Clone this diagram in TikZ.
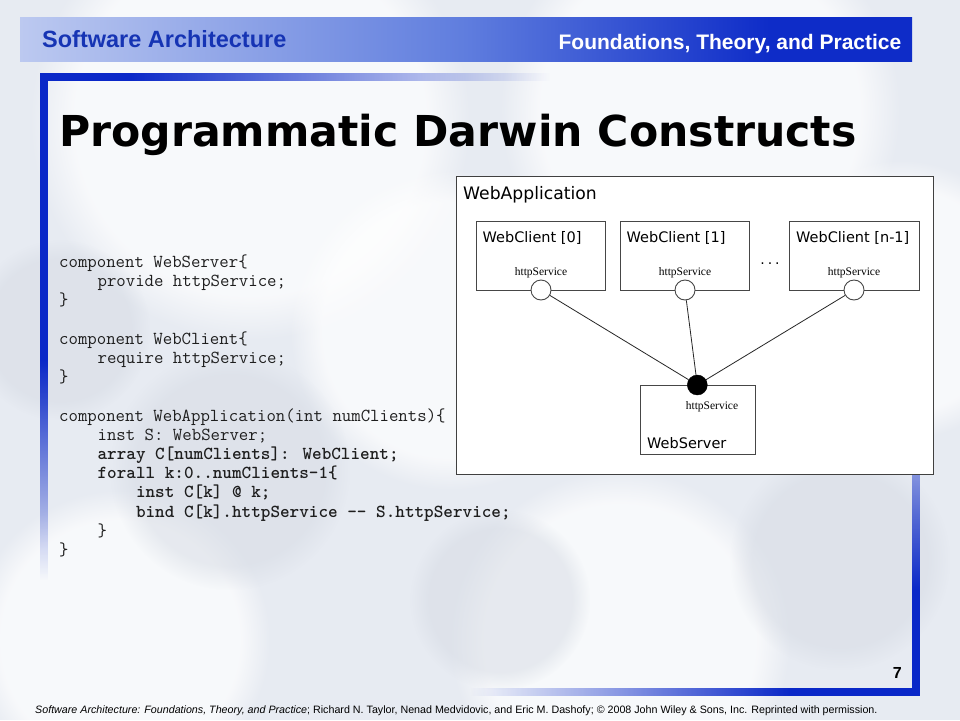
\documentclass[tikz,border=0pt]{standalone}
\usepackage{fontspec}
\setmainfont{Liberation Sans}
\newfontfamily\titlefont{DejaVu Sans}
\newfontfamily\diafont{DejaVu Sans}
\newfontfamily\portfont{Liberation Serif}
\usetikzlibrary{fadings}
\definecolor{bgbase}{RGB}{231,235,242}
\definecolor{cloudgray}{RGB}{214,219,228}
\definecolor{frameblue}{RGB}{10,40,200}
\definecolor{hdrA}{RGB}{228,234,247}
\definecolor{hdrB}{RGB}{188,201,240}
\definecolor{hdrC}{RGB}{95,125,222}
\definecolor{hdrD}{RGB}{14,44,200}
\definecolor{sablue}{RGB}{22,52,180}
\definecolor{codecol}{RGB}{30,30,30}
\definecolor{boxline}{RGB}{70,70,70}
\pgfdeclarehorizontalshading{hdrshade}{100bp}{color(0bp)=(hdrA); color(25bp)=(hdrB); color(50bp)=(hdrC); color(67bp)=(hdrD); color(100bp)=(hdrD)}
\tikzfading[name=fadedown, top color=transparent!0, bottom color=transparent!100]
\tikzfading[name=fadeup, top color=transparent!100, bottom color=transparent!0]
\tikzfading[name=faderight, left color=transparent!0, right color=transparent!100]
\tikzfading[name=fadeleft, left color=transparent!100, right color=transparent!0]
\tikzset{
  box/.style={draw=boxline, fill=white, line width=0.9pt, inner sep=0pt, rectangle},
  port/.style={circle, draw=boxline, fill=white, line width=0.9pt, minimum size=20pt, inner sep=0pt},
  bport/.style={circle, draw=black, fill=black, minimum size=20pt, inner sep=0pt},
  lbl/.style={anchor=base west, inner sep=0pt, font=\diafont\fontsize{14.5}{16}\selectfont},
  plbl/.style={anchor=base, inner sep=0pt, font=\portfont\fontsize{11.5}{13}\selectfont},
  conn/.style={draw=black!85, line width=0.8pt},
  code/.style={anchor=base west, inner sep=0pt, text=codecol, font=\ttfamily\fontsize{18.3}{22}\selectfont},
  codeb/.style={code, font=\ttfamily\bfseries\fontsize{18.3}{22}\selectfont},
  cloud/.style={path fading=circle with fuzzy edge 20 percent}
}
\begin{document}
\begin{tikzpicture}[x=1pt,y=-1pt]
\useasboundingbox (0,0) rectangle (960,720);
% background
\fill[bgbase] (0,0) rectangle (960,720);
\foreach \cx/\cy/\cr in {250/120/220, 700/110/200, 120/640/150, 620/640/170, 900/300/140, 450/330/160}
  \fill[white, opacity=0.7, cloud] (\cx,\cy) circle (\cr pt);
\foreach \cx/\cy/\cr in {230/470/120, 840/560/110, 500/600/90, 60/330/90}
  \fill[cloudgray, opacity=0.5, cloud] (\cx,\cy) circle (\cr pt);
% header bar
\shade[shading=hdrshade] (20,17) rectangle (912,61);
\node[anchor=base west, inner sep=0pt, text=sablue, font=\bfseries\fontsize{23.5}{26}\selectfont] (hdrl) at (42,47.5) {Software Architecture};
\node[anchor=base east, inner sep=0pt, text=white, font=\bfseries\fontsize{21}{24}\selectfont] (hdrr) at (901.5,49) {Foundations, Theory, and Practice};
% frame
\fill[frameblue] (40,73) rectangle (130,81);
\fill[frameblue, path fading=faderight] (130,73) rectangle (550,81);
\fill[frameblue] (40,73) rectangle (48,360);
\fill[frameblue, path fading=fadedown] (40,360) rectangle (48,580);
\fill[frameblue, path fading=fadeup] (912,380) rectangle (920,590);
\fill[frameblue] (912,590) rectangle (920,695.5);
\fill[frameblue, path fading=fadeleft] (470,688) rectangle (790,695.5);
\fill[frameblue] (790,688) rectangle (920,695.5);
% title
\node[anchor=base west, inner sep=0pt, font=\titlefont\bfseries\fontsize{42.6}{48}\selectfont] (title) at (59,146) {Programmatic Darwin Constructs};
% code
\node[code] (l0) at (59,267.5) {component WebServer\{};
\node[code] (l1) at (97.4,286.7) {provide httpService;};
\node[code] (l2) at (59,305.9) {\}};
\node[code] (l4) at (59,344.3) {component WebClient\{};
\node[code] (l5) at (97.4,363.5) {require httpService;};
\node[code] (l6) at (59,382.7) {\}};
\node[code] (l8) at (59,421.1) {component WebApplication(int numClients)\{};
\node[code] (l9) at (97.4,440.3) {inst S: WebServer;};
\node[codeb] (l10) at (97.4,459.5) {array C[numClients]: WebClient;};
\node[codeb] (l11) at (97.4,478.7) {forall k:0..numClients-1\{};
\node[codeb] (l12) at (135.8,497.9) {inst C[k] @ k;};
\node[codeb] (l13) at (135.8,517.1) {bind C[k].httpService -\kern0pt- S.httpService;};
\node[code] (l14) at (97.4,536.3) {\}};
\node[code] (l15) at (59,555.5) {\}};
% diagram
\node[box, draw=black!75, minimum width=477pt, minimum height=298pt] (app) at (694.5,325) {};
\node[lbl, font=\diafont\fontsize{17.2}{19}\selectfont] (appl) at (463,199) {WebApplication};
\node[box, minimum width=129pt, minimum height=69pt] (c0) at (540.5,255.5) {};
\node[box, minimum width=129pt, minimum height=69pt] (c1) at (684.5,255.5) {};
\node[box, minimum width=130pt, minimum height=69pt] (c2) at (854,255.5) {};
\node[box, minimum width=115pt, minimum height=69pt] (srv) at (697.5,419.5) {};
\node[lbl] (c0l) at (482.5,242) {WebClient [0]};
\node[lbl] (c1l) at (626.5,242) {WebClient [1]};
\node[lbl] (c2l) at (796,242) {WebClient [n-1]};
\node[lbl] (srvl) at (647,448) {WebServer};
\node[plbl] (c0p) at (541,275) {httpService};
\node[plbl] (c1p) at (685,275) {httpService};
\node[plbl] (c2p) at (854,275) {httpService};
\node[plbl] (srvp) at (712,409) {httpService};
\node[inner sep=0pt, anchor=base, font=\diafont\fontsize{14}{16}\selectfont] (dots) at (770,264) {.\kern3pt.\kern3pt.};
\node[port] (p0) at (541,290) {};
\node[port] (p1) at (685,290) {};
\node[port] (p2) at (854,290) {};
\node[bport] (sp) at (697.3,385) {};
\draw[conn] (p0) -- (sp);
\draw[conn] (p1) -- (sp);
\draw[conn] (p2) -- (sp);
% page number and footer
\node[anchor=base east, inner sep=0pt, font=\bfseries\fontsize{16}{18}\selectfont] (pnum) at (902,678.5) {7};
\node[anchor=base west, inner sep=0pt, font=\fontsize{10.7}{12}\selectfont] (foot) at (35,713.5) {\textit{Software Architecture: Foundations, Theory, and Practice}; Richard N. Taylor, Nenad Medvidovic, and Eric M. Dashofy; © 2008 John Wiley \& Sons, Inc. Reprinted with permission.};
\end{tikzpicture}
\end{document}
